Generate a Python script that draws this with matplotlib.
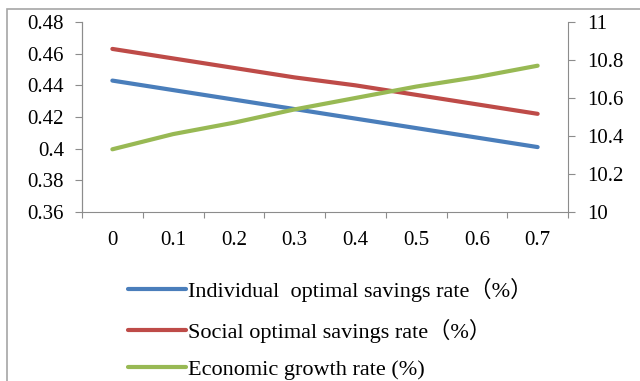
import matplotlib.pyplot as plt
from matplotlib.patches import Rectangle

# savings rates (left axis) and growth rate (right axis) by parameter value
categories = ["0", "0.1", "0.2", "0.3", "0.4", "0.5", "0.6", "0.7"]
individual = [0.443, 0.437, 0.431, 0.425, 0.419, 0.413, 0.407, 0.401]
social = [0.463, 0.457, 0.451, 0.445, 0.440, 0.434, 0.428, 0.422]
growth = [10.33, 10.41, 10.47, 10.54, 10.60, 10.66, 10.71, 10.77]

labels = ["Individual  optimal savings rate（%）",
          "Social optimal savings rate（%）",
          "Economic growth rate (%)"]
colors = ["#4A7EBB", "#BE4B48", "#98B954"]

plt.rcParams['font.family'] = ['Liberation Serif', 'Noto Sans CJK SC']
axis_gray = "#8C8C8C"

W, H = 640, 381
fig = plt.figure(figsize=(W / 100, H / 100), dpi=100)
fig.patches.append(Rectangle((7 / W, -0.05), 1.2, 1 - 9 / H + 0.05,
                             transform=fig.transFigure, fill=False,
                             edgecolor="#A6A6A6", linewidth=1.2))

ax = fig.add_axes([82 / W, 1 - 212 / H, (568 - 82) / W, (212 - 22) / H])
ax2 = ax.twinx()

x = range(len(categories))
l1, = ax.plot(x, individual, color=colors[0], lw=3, solid_capstyle="round")
l2, = ax.plot(x, social, color=colors[1], lw=3, solid_capstyle="round")
l3, = ax2.plot(x, growth, color=colors[2], lw=3, solid_capstyle="round")

ax.set_xlim(-0.5, len(categories) - 0.5)
ax.set_ylim(0.36, 0.48)
ax.set_yticks([0.36, 0.38, 0.40, 0.42, 0.44, 0.46, 0.48])
ax.set_yticklabels(["0.36", "0.38", "0.4", "0.42", "0.44", "0.46", "0.48"])
ax2.set_ylim(10, 11)
ax2.set_yticks([10, 10.2, 10.4, 10.6, 10.8, 11])
ax2.set_yticklabels(["10", "10.2", "10.4", "10.6", "10.8", "11"])

# category boundaries get tick marks, centres get labels
ax.set_xticks([i - 0.5 for i in range(len(categories) + 1)])
ax.set_xticklabels([])
ax.set_xticks(list(x), minor=True)
ax.set_xticklabels(categories, minor=True)
ax.tick_params(axis="x", which="minor", length=0, pad=14, labelsize=15)
ax.tick_params(axis="x", which="major", length=4, color=axis_gray)
ax.tick_params(axis="y", length=5, color=axis_gray, labelsize=15, pad=8)
ax2.tick_params(axis="y", length=5, color=axis_gray, labelsize=15, pad=9)

for a in (ax, ax2):
    a.spines["top"].set_visible(False)
    for s in ("left", "right", "bottom"):
        a.spines[s].set_color(axis_gray)
ax2.spines["bottom"].set_visible(False)
ax.spines["right"].set_visible(False)

fig.legend([l1, l2, l3], labels, loc="upper left",
           bbox_to_anchor=(128 / W, 1 - 278 / H), frameon=False,
           borderaxespad=0, borderpad=0,
           fontsize=16, handlelength=2.6, handletextpad=0.1,
           labelspacing=0.75)

fig.savefig("out.png", dpi=100)
